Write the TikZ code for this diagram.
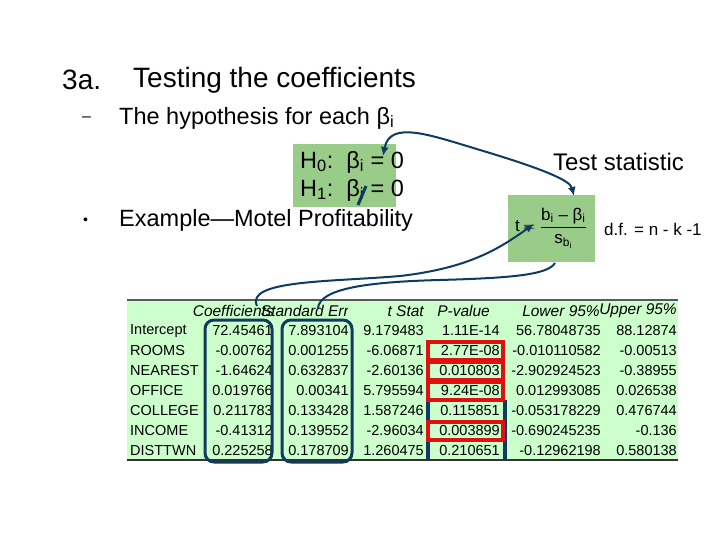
\documentclass[tikz,border=0pt]{standalone}
\usepackage{fontspec}
\setmainfont{Liberation Sans}
\usetikzlibrary{arrows.meta}
\definecolor{tblgreen}{HTML}{CCFFCC}
\definecolor{boxgreen}{HTML}{99CC88}
\definecolor{navy}{HTML}{0E3B5E}
\definecolor{redb}{HTML}{E01010}
\newcommand{\bi}{β\textsubscript{i}}
\begin{document}
\begin{tikzpicture}[x=1pt,y=-1pt,
  txt/.style={inner sep=0pt,font=\fontsize{23.5}{26}\selectfont},
  cell/.style={inner sep=0pt,anchor=east,font=\fontsize{14.5}{16}\selectfont},
  hdr/.style={inner sep=0pt,anchor=east,font=\fontsize{15.5}{16}\selectfont\itshape},
  lbl/.style={inner sep=0pt,anchor=west,font=\fontsize{14.5}{16}\selectfont},
  conn/.style={navy,line width=2pt},
  colbox/.style={navy,line width=3pt,rounded corners=9pt},
  pbox/.style={line width=3.5pt}]
\useasboundingbox (0,0) rectangle (720,540);
\node[txt,anchor=west,font=\fontsize{28}{30}\selectfont] (n3a) at (62,80) {3a.};
\node[txt,anchor=west,font=\fontsize{28}{30}\selectfont] (title) at (133,80) {Testing the coefficients};
\node[txt,anchor=west,font=\fontsize{16}{18}\selectfont] (d1) at (82,119) {–};
\node[txt,anchor=west] (hyp) at (119,118) {The hypothesis for each \bi};
\node[txt,anchor=west,font=\fontsize{14}{16}\selectfont] (b1) at (83,221) {•};
\node[txt,anchor=west] (ex) at (119,220) {Example—Motel Profitability};
% H box
\fill[boxgreen] (293,144) rectangle (396,207);
\node[txt,anchor=west] (h0) at (300,162) {H\textsubscript{0}:\ \ \bi{} = 0};
\node[txt,anchor=west] (h1) at (300,190) {H\textsubscript{1}:\ \ \bi{} = 0};
\draw[navy,line width=3pt] (358,205) -- (366,186);
\coordinate (hin) at (383,156);
% test box
\node[txt,anchor=west,font=\fontsize{24}{26}\selectfont] (ts) at (553,162) {Test statistic};
\fill[boxgreen] (508,195) rectangle (595,262);
\node[inner sep=0pt,font=\fontsize{17}{18}\selectfont] (tt) at (551,228) {t$\,=\displaystyle\frac{\mbox{b\textsubscript{i} – \bi}}{\mbox{s\textsubscript{b\textsubscript{i}}}}$};
\node[inner sep=0pt,anchor=west,font=\fontsize{17}{18}\selectfont] (df) at (604,229) {d.f. = n - k -1};
\coordinate (ttop) at (574,196);
\coordinate (tfr) at (534,224);
\coordinate (tbot) at (555,263);
% table
\fill[tblgreen] (127,300) rectangle (678,460);
\draw[gray!70!black,line width=1.5pt] (127,300) -- (678,300);
\draw[black!80,line width=2pt] (127,460) -- (678,460);
\node[hdr] (hc) at (274,311) {Coefficients};
\node[hdr] (hs) at (349,311) {Standard Err};
\fill[tblgreen] (348,302) rectangle (362,319);
\node[hdr] (ht) at (424,311) {t Stat};
\node[hdr] (hp) at (490,311) {P-value};
\node[hdr] (hl) at (600,311) {Lower 95\%};
\node[hdr] (hu) at (677,311) {Upper 95\%};
\foreach \y/\a/\b/\c/\d/\e/\f/\g in {
 331/Intercept/72.45461/7.893104/9.179483/1.11E-14/56.78048735/88.12874,
 351/ROOMS/-0.00762/0.001255/-6.06871/2.77E-08/-0.010110582/-0.00513,
 371/NEAREST/-1.64624/0.632837/-2.60136/0.010803/-2.902924523/-0.38955,
 391/OFFICE/0.019766/0.00341/5.795594/9.24E-08/0.012993085/0.026538,
 411/COLLEGE/0.211783/0.133428/1.587246/0.115851/-0.053178229/0.476744,
 431/INCOME/-0.41312/0.139552/-2.96034/0.003899/-0.690245235/-0.136,
 451/DISTTWN/0.225258/0.178709/1.260475/0.210651/-0.12962198/0.580138}{
 \node[lbl] at (130,\y) {\a};
 \node[cell] at (273,\y) {\b};
 \node[cell] at (349,\y) {\c};
 \node[cell] at (424,\y) {\d};
 \node[cell] at (500,\y) {\e};
 \node[cell] at (601,\y) {\f};
 \node[cell] at (677,\y) {\g};
}
\draw[colbox] (205,320) rectangle (272,462);
\draw[colbox] (282,320) rectangle (352,462);
\draw[navy,pbox] (428,400) -- (428,460) (505,400) -- (505,460) (428,400) -- (505,400);
\foreach \y in {351,371,391,431}{\draw[redb,pbox] (428,\y-9) rectangle (503,\y+9);}
\coordinate (ccol) at (257,306);
\coordinate (scol) at (318,308);
% connectors
\draw[conn,-{Latex[length=9pt,width=8pt]}] (ccol) .. controls (245,280) and (330,282) .. (400,276) .. controls (470,268) and (500,248) .. (tfr);
\draw[conn] (scol) .. controls (320,290) and (360,282) .. (440,280) .. controls (510,278) and (548,275) .. (tbot);
\draw[conn,{Latex[length=9pt,width=8pt]}-{Latex[length=9pt,width=8pt]}] (hin) .. controls (390,120) and (430,135) .. (480,150) .. controls (540,168) and (570,180) .. (ttop);
\end{tikzpicture}
\end{document}
